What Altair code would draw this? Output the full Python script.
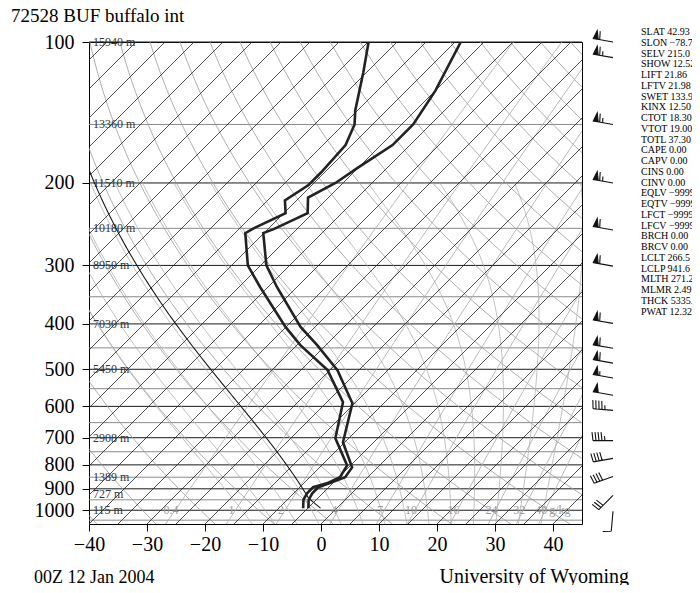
import numpy as np
import pandas as pd
import altair as alt

FONT = "Liberation Serif"

# ---------------- data ----------------
station_title = "72528 BUF buffalo int"
footer_left = "00Z 12 Jan 2004"
footer_right = "University of Wyoming"

# temperature profile (hPa, degC)
temp_p = [990, 950, 920, 893, 872, 850, 810, 716, 591, 502, 444, 406, 334, 300, 256, 251, 232, 215, 200, 186, 166, 150, 127, 100]
temp_c = [-4.9, -6.3, -6.8, -6.8, -5.3, -3.9, -4.4, -10.3, -15.4, -23.7, -31.5, -37.5, -48.4, -54.0, -60.1, -59.0, -55.9, -58.5, -56.3, -55.1, -53.0, -53.0, -55.0, -59.0]

# dew point profile (hPa, degC)
dew_p = [990, 950, 920, 893, 876, 850, 802, 702, 588, 502, 444, 406, 334, 300, 256, 250, 232, 218, 202, 190, 166, 150, 140, 116, 100]
dew_c = [-5.8, -7.2, -7.7, -7.7, -6.0, -4.8, -5.6, -12.3, -17.2, -25.4, -34.4, -40.1, -51.3, -57.2, -63.2, -62.6, -59.7, -62.0, -60.6, -60.6, -61.1, -63.1, -65.4, -70.6, -74.9]

# standard level heights
height_p = [100, 150, 200, 250, 300, 400, 500, 700, 850, 925, 1000]
height_m = [15940, 13360, 11510, 10180, 8950, 7030, 5450, 2908, 1389, 727, 115]

# winds (hPa, direction deg, speed kt)
wind_p = [100, 108, 150, 200, 252, 301, 399, 451, 485, 522, 568, 612, 710, 775, 847, 930, 1005]
wind_dir = [280, 280, 280, 280, 280, 280, 280, 280, 280, 280, 280, 275, 270, 260, 250, 225, 185]
wind_kt = [60, 65, 65, 65, 60, 60, 60, 60, 60, 55, 50, 45, 45, 40, 40, 30, 10]

# station indices
stat_names = ["SLAT", "SLON", "SELV", "SHOW", "LIFT", "LFTV", "SWET", "KINX", "CTOT", "VTOT",
              "TOTL", "CAPE", "CAPV", "CINS", "CINV", "EQLV", "EQTV", "LFCT", "LFCV", "BRCH",
              "BRCV", "LCLT", "LCLP", "MLTH", "MLMR", "THCK", "PWAT"]
stat_values = ["42.93", "\u221278.73", "215.0", "12.52", "21.86", "21.98", "133.9", "12.50", "18.30", "19.00",
               "37.30", "0.00", "0.00", "0.00", "0.00", "\u22129999", "\u22129999", "\u22129999", "\u22129999", "0.00",
               "0.00", "266.5", "941.6", "271.2", "2.49", "5335.0", "12.32"]

# parcel
sfc_p = 990.0
lcl_p = 941.6
lcl_t = 266.5

# background diagram families
mixing_ratios = [0.4, 1, 2, 4, 7, 10, 16, 24, 32, 40]
mixing_labels = ["0.4", "1", "2", "4", "7", "10", "16", "24", "32", "40"]
isotherms_c = list(range(-120, 50, 5))
dry_theta_k = list(range(230, 460, 10))
moist_t1000_c = [-16, -12, -8, -4, 0, 4, 8, 12, 16, 20, 24, 28, 32, 36]
isobars = list(range(100, 1051, 50))

x_ticks = [-40, -30, -20, -10, 0, 10, 20, 30, 40]
y_ticks = [100, 200, 300, 400, 500, 600, 700, 800, 900, 1000]

# ---------------- diagram geometry ----------------
P_TOP, P_BOT = 100.0, 1070.0
X_MIN, X_MAX = -40.0, 45.0
W, H = 493, 482
SKEW = (H / np.log(P_BOT / P_TOP)) / (W / (X_MAX - X_MIN))  # 45 degree isotherms

def skew_x(t, p):
    return np.asarray(t, dtype=float) + SKEW * np.log(P_BOT / np.asarray(p, dtype=float))

Rd, Cp, Lv, EPS = 287.04, 1004.6, 2.501e6, 0.622

def es(tk):
    return 6.112 * np.exp(17.67 * (tk - 273.15) / (tk - 29.65))

def dtdlnp(tk, p):
    e = es(tk)
    rs = EPS * e / (p - e)
    return (Rd * tk + Lv * rs) / (Cp + Lv * Lv * rs * EPS / (Rd * tk * tk))

def moist_curve(t0c, p0, p1, n=140):
    lnp = np.linspace(np.log(p0), np.log(p1), n)
    t = t0c + 273.15
    out = [t]
    for a, b in zip(lnp[:-1], lnp[1:]):
        h = b - a
        k1 = dtdlnp(t, np.exp(a))
        k2 = dtdlnp(t + h * k1 / 2, np.exp(a + h / 2))
        k3 = dtdlnp(t + h * k2 / 2, np.exp(a + h / 2))
        k4 = dtdlnp(t + h * k3, np.exp(b))
        t = t + h * (k1 + 2 * k2 + 2 * k3 + k4) / 6
        out.append(t)
    return np.exp(lnp), np.array(out) - 273.15

def line_frame(curves):
    rows = []
    for ident, (ps, ts, extra) in enumerate(curves):
        xs = skew_x(ts, ps)
        for k, (pp, xx) in enumerate(zip(ps, xs)):
            r = {"id": ident, "i": k, "p": float(pp), "X": float(xx)}
            r.update(extra)
            rows.append(r)
    return pd.DataFrame(rows)

# isotherms
iso_df = line_frame([([P_BOT, P_TOP], [t, t], {}) for t in isotherms_c])
# isobars
bar_df = pd.DataFrame({
    "p": isobars,
    "col": ["#1a1a1a" if p % 100 == 0 else "#8a8a8a" for p in isobars],
})
# dry adiabats
pg = np.geomspace(P_TOP, P_BOT, 70)
dry_df = line_frame([(pg, th * (pg / 1000.0) ** (Rd / Cp) - 273.15, {}) for th in dry_theta_k])
# moist adiabats
moist_curves = []
for t0 in moist_t1000_c:
    pu, tu = moist_curve(t0, 1000.0, 200.0)
    pd_, td_ = moist_curve(t0, 1000.0, P_BOT, n=10)
    ps = np.concatenate([pd_[::-1], pu[1:]])
    ts = np.concatenate([td_[::-1], tu[1:]])
    moist_curves.append((ps, ts, {}))
moist_df = line_frame(moist_curves)
# mixing ratio lines
def td_from_w(w, p):
    e = w * p / (622.0 + w)
    a = np.log(e / 6.112)
    return 243.5 * a / (17.67 - a)
mix_df = line_frame([(pg, td_from_w(w, pg), {}) for w in mixing_ratios])
mixlab_df = pd.DataFrame({
    "p": [1000.0] * len(mixing_ratios),
    "X": skew_x([td_from_w(w, 1000.0) for w in mixing_ratios], [1000.0] * len(mixing_ratios)),
    "lab": mixing_labels,
})
unit_df = mixlab_df.tail(1).assign(lab="g/kg")

# parcel path
theta_lcl = lcl_t * (1000.0 / lcl_p) ** (Rd / Cp)
p_dry = np.geomspace(sfc_p, lcl_p, 6)
t_dry = theta_lcl * (p_dry / 1000.0) ** (Rd / Cp) - 273.15
p_m, t_m = moist_curve(lcl_t - 273.15, lcl_p, P_TOP, n=160)
parcel_df = line_frame([(np.concatenate([p_dry, p_m[1:]]), np.concatenate([t_dry, t_m[1:]]), {})])

# sounding
prof_df = line_frame([(temp_p, temp_c, {"kind": "T"}), (dew_p, dew_c, {"kind": "Td"})])

# height labels
hgt_df = pd.DataFrame({"p": height_p, "lab": [f"{h} m" for h in height_m]})

# wind barbs as svg paths (pixel units)
def barb_path(direction, speed):
    d = np.radians(direction)
    ux, uy = np.sin(d), -np.cos(d)
    vx, vy = np.cos(d), np.sin(d)
    L, FL = 20.0, 8.5
    segs = [f"M0,0L{L*ux:.2f},{L*uy:.2f}"]
    s = int(round(speed / 5.0)) * 5
    n50, s = divmod(s, 50)
    n10, s = divmod(s, 10)
    n5 = s // 5
    pos = L
    for _ in range(n50):
        ax, ay = pos * ux, pos * uy
        bx, by = (pos - 5.0) * ux, (pos - 5.0) * uy
        cx, cy = (pos - 2.5) * ux + FL * vx, (pos - 2.5) * uy + FL * vy
        segs.append(f"M{ax:.2f},{ay:.2f}L{cx:.2f},{cy:.2f}L{bx:.2f},{by:.2f}Z")
        pos -= 6.5
    for _ in range(n10):
        segs.append(f"M{pos*ux:.2f},{pos*uy:.2f}L{pos*ux+FL*vx+1.0*ux:.2f},{pos*uy+FL*vy+1.0*uy:.2f}")
        pos -= 3.0
    if n5:
        if pos == L:
            pos -= 3.0
        segs.append(f"M{pos*ux:.2f},{pos*uy:.2f}L{pos*ux+4.5*vx+0.6*ux:.2f},{pos*uy+4.5*vy+0.6*uy:.2f}")
    return "".join(segs)

wind_df = pd.DataFrame({
    "p": wind_p,
    "shape": [barb_path(d, s) for d, s in zip(wind_dir, wind_kt)],
})

stats_df = pd.DataFrame({"txt": ["\n".join(f"{n} {v}" for n, v in zip(stat_names, stat_values))]})
text_df = pd.DataFrame({"t": [station_title, footer_left, footer_right]})

# ---------------- encodings ----------------
xs = alt.Scale(domain=[X_MIN, X_MAX], nice=False, zero=False)
ys = alt.Scale(type="log", domain=[P_TOP, P_BOT], reverse=True, nice=False)
x_axis = alt.Axis(values=x_ticks, title=None, grid=False, domain=False, tickSize=7, tickColor="black",
                  labelFont=FONT, labelFontSize=20, labelColor="black", labelPadding=3, labelFlush=False)
y_axis = alt.Axis(values=y_ticks, format="d", title=None, grid=False, domain=False, tickSize=7,
                  tickColor="black", labelFont=FONT, labelFontSize=20, labelColor="black",
                  labelPadding=8, labelOverlap=False)
X = alt.X("X:Q", scale=xs, axis=x_axis)
Y = alt.Y("p:Q", scale=ys, axis=y_axis)

isobar_layer = alt.Chart(bar_df).mark_rule(strokeWidth=1).encode(
    y=Y, color=alt.Color("col:N", scale=None))
iso_layer = alt.Chart(iso_df).mark_line(clip=True, color="#222222", strokeWidth=0.8).encode(
    x=X, y=Y, detail="id:N", order="i:Q")
dry_layer = alt.Chart(dry_df).mark_line(clip=True, color="#9a9a9a", strokeWidth=0.8).encode(
    x=X, y=Y, detail="id:N", order="i:Q")
moist_layer = alt.Chart(moist_df).mark_line(clip=True, color="#b0b0b0", strokeWidth=0.8).encode(
    x=X, y=Y, detail="id:N", order="i:Q")
mix_layer = alt.Chart(mix_df).mark_line(clip=True, color="#a8a8a8", strokeWidth=0.8).encode(
    x=X, y=Y, detail="id:N", order="i:Q")
mixlab_layer = alt.Chart(mixlab_df).mark_text(font=FONT, fontSize=12, color="#9a9a9a", dx=-4).encode(
    x=X, y=Y, text="lab:N")
unit_layer = alt.Chart(unit_df).mark_text(font=FONT, fontSize=12, color="#9a9a9a", align="left", dx=4).encode(
    x=X, y=Y, text="lab:N")
hgt_layer = alt.Chart(hgt_df).mark_text(font=FONT, fontSize=12, color="#333333", align="left",
                                        baseline="middle").encode(
    x=alt.value(4), y=Y, text="lab:N")
parcel_layer = alt.Chart(parcel_df).mark_line(clip=True, color="#1a1a1a", strokeWidth=1.1).encode(
    x=X, y=Y, detail="id:N", order="i:Q")
prof_layer = alt.Chart(prof_df).mark_line(clip=True, color="#222222", strokeWidth=2.6,
                                          strokeJoin="miter").encode(
    x=X, y=Y, detail="kind:N", order="i:Q")
wind_layer = alt.Chart(wind_df).mark_point(filled=True, fill="#111111", stroke="#111111",
                                           strokeWidth=1.1, size=4, opacity=1).encode(
    x=alt.value(524), y=Y, shape=alt.Shape("shape:N", scale=None))
stats_layer = alt.Chart(stats_df).mark_text(font=FONT, fontSize=10, align="left", baseline="top",
                                            lineBreak="\n", lineHeight=10.75, color="black").encode(
    x=alt.value(552), y=alt.value(-15), text="txt:N")
title_layer = alt.Chart(text_df.iloc[[0]]).mark_text(font=FONT, fontSize=19, align="left",
                                                     baseline="alphabetic", color="black").encode(
    x=alt.value(-78), y=alt.value(-20), text="t:N")
fl_layer = alt.Chart(text_df.iloc[[1]]).mark_text(font=FONT, fontSize=18, align="left",
                                                  baseline="alphabetic", color="black").encode(
    x=alt.value(-55), y=alt.value(541), text="t:N")
fr_layer = alt.Chart(text_df.iloc[[2]]).mark_text(font=FONT, fontSize=20, align="right",
                                                  baseline="alphabetic", color="black").encode(
    x=alt.value(540), y=alt.value(541), text="t:N")

chart = alt.layer(
    isobar_layer, dry_layer, moist_layer, mix_layer, iso_layer, mixlab_layer, unit_layer,
    hgt_layer, parcel_layer, prof_layer, wind_layer, stats_layer, title_layer, fl_layer, fr_layer,
).properties(
    width=W, height=H,
    padding={"left": 81, "top": 34, "right": 110, "bottom": 61},
    autosize=alt.AutoSizeParams(type="none"),
).configure_view(stroke="black", strokeWidth=1)

chart.save("out.html", embed_options={"renderer": "svg", "actions": False})
